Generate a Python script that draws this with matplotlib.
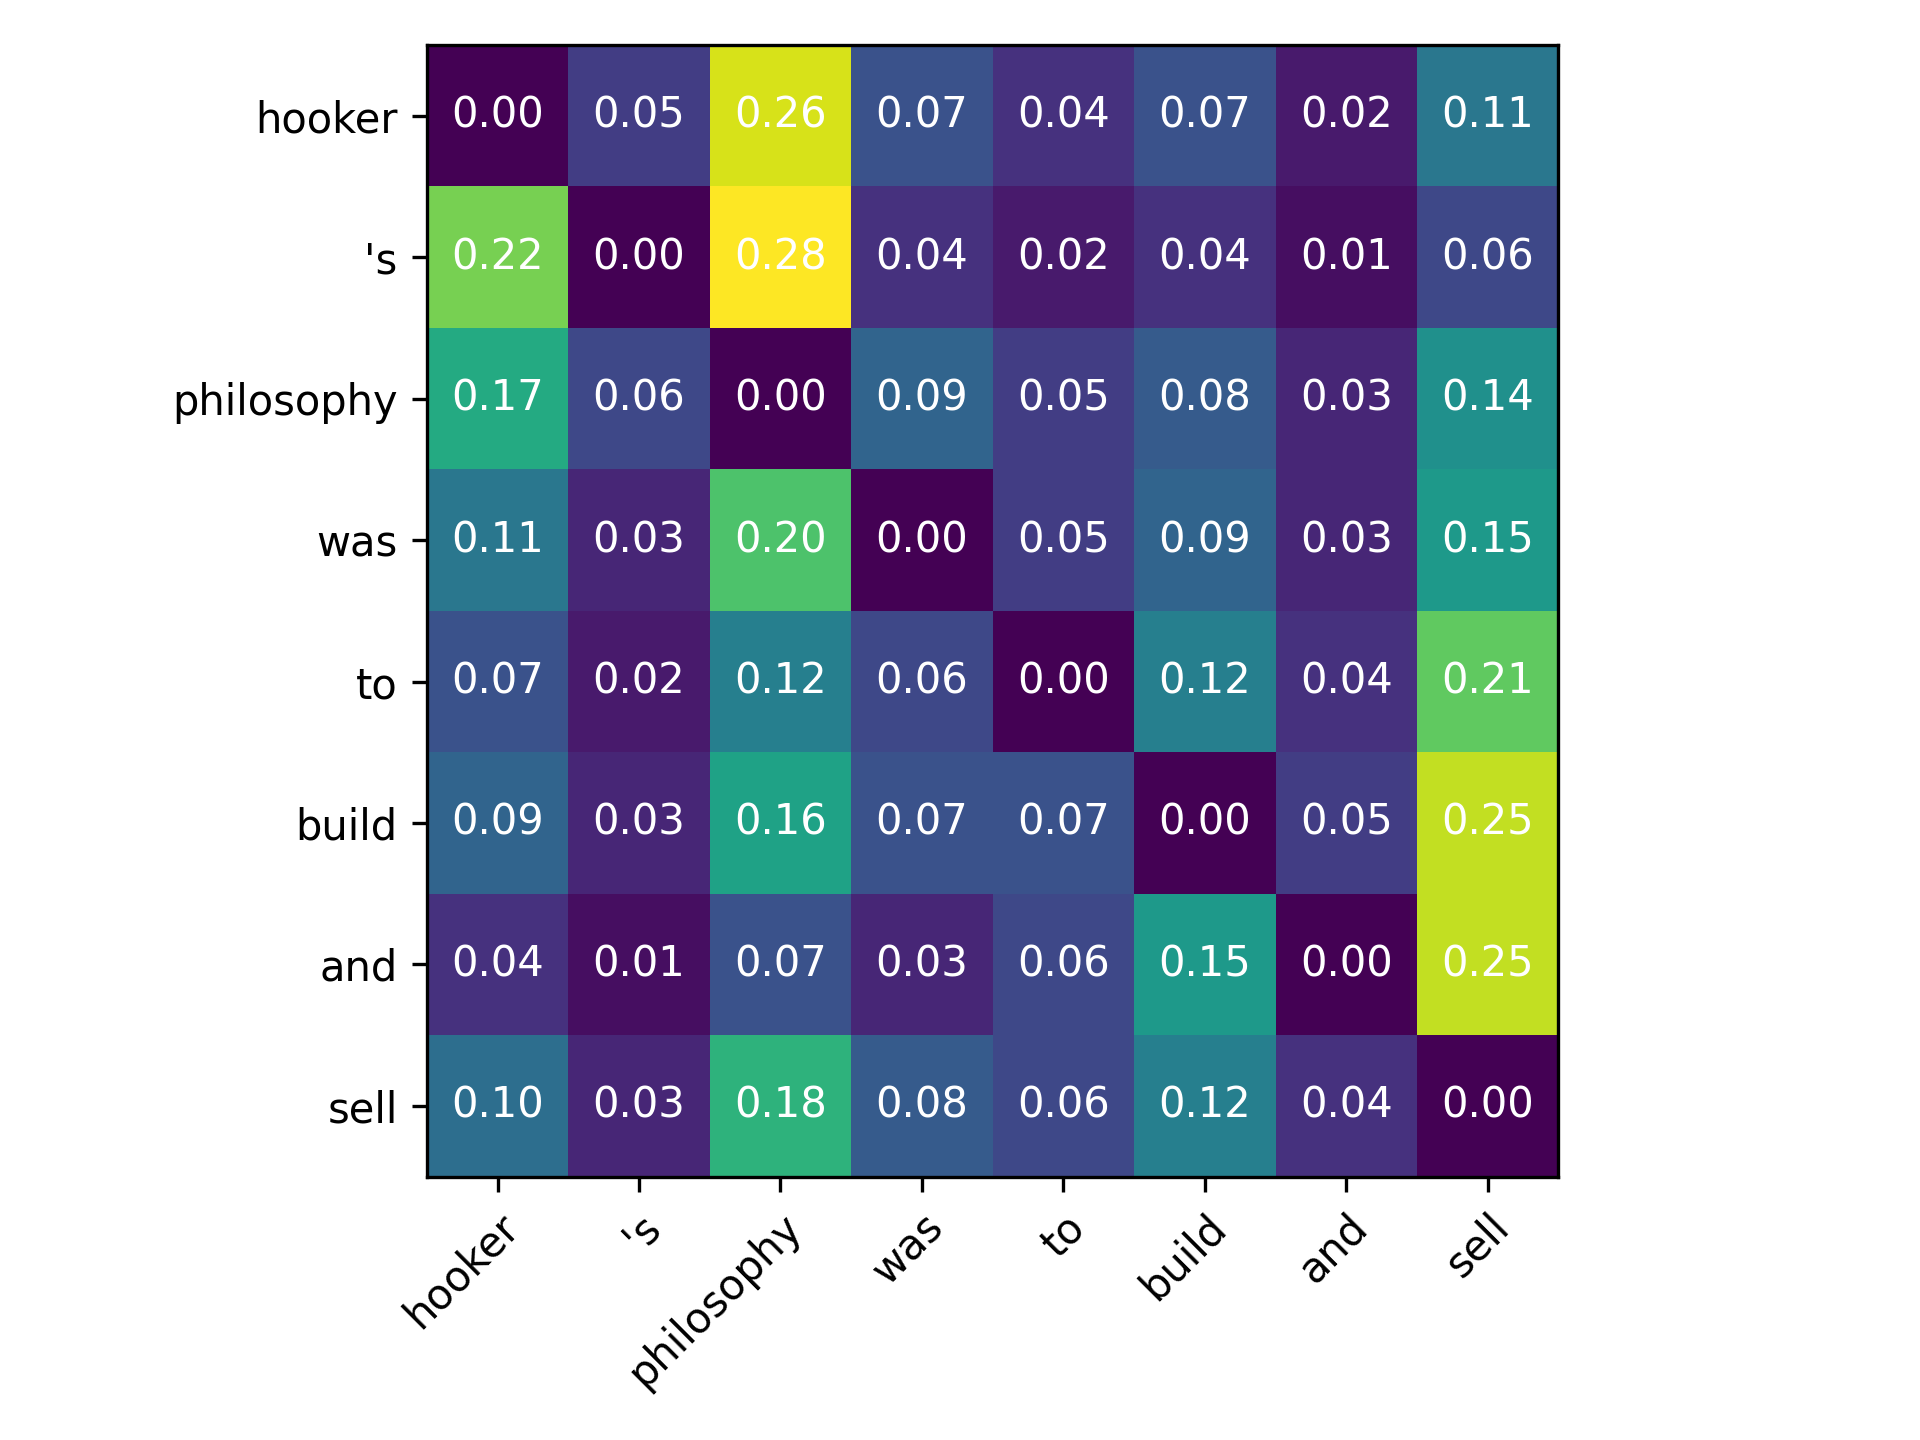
import numpy as np
import matplotlib
matplotlib.use("Agg")
import matplotlib.pyplot as plt

# tokens along both axes
tokens = ["hooker", "'s", "philosophy", "was", "to", "build", "and", "sell"]

# attention weights, row = query token, column = key token
# (a few cells estimated a bit past their 2-digit label from the cell colour)
weights = np.array([
    [0.00, 0.05, 0.261, 0.07, 0.04, 0.07, 0.02, 0.11],
    [0.221, 0.00, 0.278, 0.04, 0.02, 0.04, 0.01, 0.06],
    [0.17, 0.06, 0.00, 0.09, 0.05, 0.08, 0.03, 0.14],
    [0.11, 0.03, 0.20, 0.00, 0.05, 0.09, 0.03, 0.15],
    [0.07, 0.02, 0.12, 0.06, 0.00, 0.12, 0.04, 0.21],
    [0.09, 0.03, 0.16, 0.07, 0.07, 0.00, 0.05, 0.253],
    [0.04, 0.01, 0.07, 0.03, 0.06, 0.15, 0.00, 0.253],
    [0.10, 0.03, 0.18, 0.08, 0.06, 0.12, 0.04, 0.00],
])

fig, ax = plt.subplots(figsize=(6.4, 4.8), dpi=300)
im = ax.imshow(weights, cmap="viridis")

ax.set_xticks(np.arange(len(tokens)))
ax.set_yticks(np.arange(len(tokens)))
ax.set_xticklabels(tokens)
ax.set_yticklabels(tokens)
plt.setp(ax.get_xticklabels(), rotation=45, ha="right", rotation_mode="anchor")

# write value in each cell
for i in range(len(tokens)):
    for j in range(len(tokens)):
        ax.text(j, i, "%.2f" % weights[i, j], ha="center", va="center", color="w")

fig.tight_layout()
fig.savefig("out.png")
